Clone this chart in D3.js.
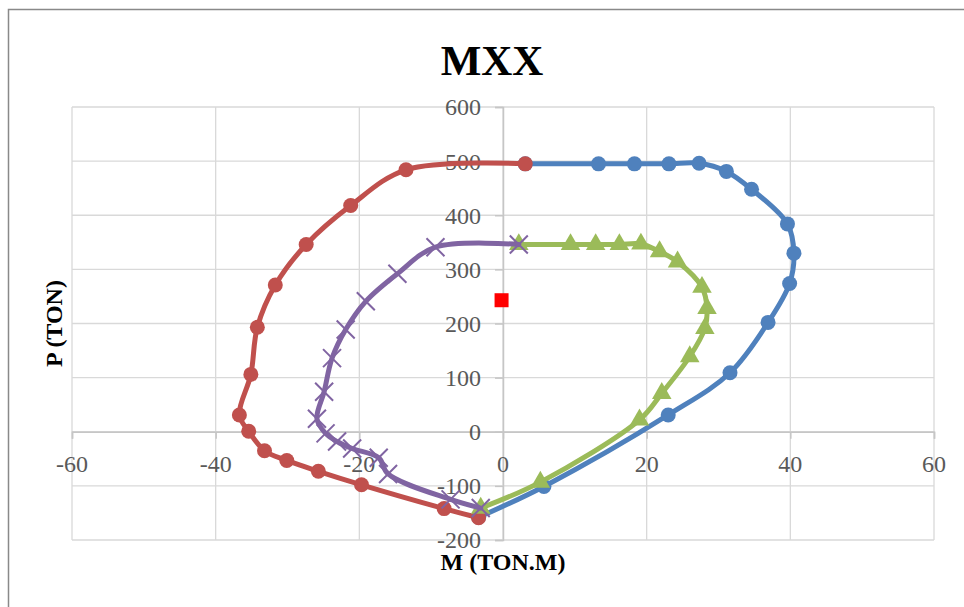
<!DOCTYPE html>
<html><head><meta charset="utf-8">
<script src="https://cdn.jsdelivr.net/npm/d3@7"></script>
<style>html,body{margin:0;padding:0;background:#fff;overflow:hidden;} svg{display:block;}</style>
</head><body><svg id="chart" width="964" height="607"></svg>
<script>
const title = "MXX";
const xLabel = "M (TON.M)";
const yLabel = "P (TON)";
const xTicks = [-60, -40, -20, 0, 20, 40, 60];
const yTicks = [-200, -100, 0, 100, 200, 300, 400, 500, 600];

// Series 1 (blue, circles)
const blueM = [3.1, 13.3, 18.3, 23.1, 27.3, 31.1, 34.6, 39.6, 40.5, 39.9, 36.9, 31.6, 23.0, 5.7, -3.4];
const blueP = [495, 495, 495, 495, 496, 481, 448, 384, 330, 274, 202, 109, 31, -101, -158];
// Series 2 (red, circles)
const redM = [3.1, -13.5, -21.2, -27.4, -31.7, -34.2, -35.1, -36.7, -35.4, -33.2, -30.1, -25.7, -19.7, -8.2, -3.4];
const redP = [495, 484, 418, 346, 271, 193, 106, 31, 1, -35, -53, -73, -98, -142, -159];
// Series 3 (green, triangles)
const greenM = [2.2, 9.4, 12.9, 16.2, 19.2, 21.8, 24.3, 27.7, 28.4, 28.1, 26.0, 22.1, 19.0, 5.2, -3.1];
const greenP = [346, 346, 346, 346, 347, 333, 314, 267, 228, 191, 139, 71, 22, -93, -141];
// Series 4 (purple, crosses)
const purpleM = [2.2, -9.4, -14.7, -19.1, -21.9, -23.8, -24.9, -25.9, -24.7, -23.1, -21.0, -17.3, -16.0, -7.3, -3.1];
const purpleP = [346, 341, 292, 241, 189, 136, 74, 24, -3, -18, -31, -48, -78, -125, -141];
// Load point (red square)
const loadM = [-0.2];
const loadP = [243];

const W = 964, H = 607;
const plot = {left: 72, right: 934, top: 107, bottom: 540};
const svg = d3.select("#chart");
const x = d3.scaleLinear().domain([-60, 60]).range([plot.left, plot.right]);
const y = d3.scaleLinear().domain([-200, 600]).range([plot.bottom, plot.top]);

const serif = "'Liberation Serif', 'DejaVu Serif', serif";

// chart-area frame (clipped at right/bottom in reference)
svg.append("path").attr("d", `M8.5,${H} V9.5 H${W}`).attr("fill", "none")
  .attr("stroke", "#898989").attr("stroke-width", 1.5);

// gridlines
const grid = svg.append("g").attr("stroke", "#d9d9d9").attr("stroke-width", 1.3);
grid.selectAll("line.v").data(xTicks).join("line")
  .attr("x1", d => x(d)).attr("x2", d => x(d)).attr("y1", plot.top).attr("y2", plot.bottom);
grid.selectAll("line.h").data(yTicks).join("line")
  .attr("y1", d => y(d)).attr("y2", d => y(d)).attr("x1", plot.left).attr("x2", plot.right);

// axes through origin
const xAxis = d3.axisBottom(x).tickValues(xTicks).tickSize(7).tickFormat("");
const yAxis = d3.axisLeft(y).tickValues(yTicks).tickSize(8).tickFormat("");
const gx = svg.append("g").attr("transform", `translate(0,${y(0)})`).call(xAxis);
const gy = svg.append("g").attr("transform", `translate(${x(0)},0)`).call(yAxis);
[gx, gy].forEach(g => {
  g.selectAll("path,line").attr("stroke", "#c6c6c6").attr("stroke-width", 1.5);
});

// tick labels
svg.append("g").selectAll("text").data(xTicks).join("text")
  .attr("x", d => x(d)).attr("y", y(0) + 32).attr("dy", "0.35em")
  .attr("text-anchor", "middle").attr("font-family", serif).attr("font-size", 24)
  .attr("fill", "#595959").text(d => d);
svg.append("g").selectAll("text").data(yTicks).join("text")
  .attr("x", x(0) - 22).attr("y", d => y(d)).attr("dy", "0.35em")
  .attr("text-anchor", "end").attr("font-family", serif).attr("font-size", 24)
  .attr("fill", "#595959").text(d => d);

// titles
svg.append("text").attr("x", 492).attr("y", 75).attr("text-anchor", "middle")
  .attr("font-family", serif).attr("font-weight", "bold").attr("font-size", 43)
  .attr("fill", "#000").text(title);
svg.append("text").attr("x", (plot.left + plot.right) / 2).attr("y", 570).attr("text-anchor", "middle")
  .attr("font-family", serif).attr("font-weight", "bold").attr("font-size", 24)
  .attr("fill", "#000").text(xLabel);
svg.append("text").attr("transform", `translate(54,${(plot.top + plot.bottom) / 2}) rotate(-90)`)
  .attr("dy", "0.35em").attr("text-anchor", "middle")
  .attr("font-family", serif).attr("font-weight", "bold").attr("font-size", 24)
  .attr("fill", "#000").text(yLabel);

const line = d3.line().x(d => x(d[0])).y(d => y(d[1])).curve(d3.curveCatmullRom.alpha(0.5));
const zip = (a, b) => a.map((v, i) => [v, b[i]]);

const series = [
  {m: blueM, p: blueP, color: "#4F81BD", marker: "circle"},
  {m: redM, p: redP, color: "#C0504D", marker: "circle"},
  {m: greenM, p: greenP, color: "#9BBB59", marker: "triangle"},
  {m: purpleM, p: purpleP, color: "#8064A2", marker: "cross"}
];

series.forEach(s => {
  const pts = zip(s.m, s.p);
  const g = svg.append("g");
  g.append("path").datum(pts).attr("d", line).attr("fill", "none")
    .attr("stroke", s.color).attr("stroke-width", 5)
    .attr("stroke-linejoin", "round").attr("stroke-linecap", "round");
  if (s.marker === "circle") {
    g.selectAll("circle").data(pts).join("circle")
      .attr("cx", d => x(d[0])).attr("cy", d => y(d[1])).attr("r", 7.5).attr("fill", s.color);
  } else if (s.marker === "triangle") {
    g.selectAll("path.m").data(pts).join("path").attr("class", "m")
      .attr("transform", d => `translate(${x(d[0])},${y(d[1])})`)
      .attr("d", d3.symbol(d3.symbolTriangle, 165)).attr("fill", s.color);
  } else {
    const c = 9;
    g.selectAll("path.m").data(pts).join("path").attr("class", "m")
      .attr("transform", d => `translate(${x(d[0])},${y(d[1])})`)
      .attr("d", `M${-c},${-c}L${c},${c}M${-c},${c}L${c},${-c}`)
      .attr("stroke", s.color).attr("stroke-width", 2).attr("fill", "none");
  }
});

svg.append("g").selectAll("rect").data(zip(loadM, loadP)).join("rect")
  .attr("x", d => x(d[0]) - 7).attr("y", d => y(d[1]) - 7)
  .attr("width", 14).attr("height", 14).attr("fill", "#FF0000");
</script>
</body></html>
